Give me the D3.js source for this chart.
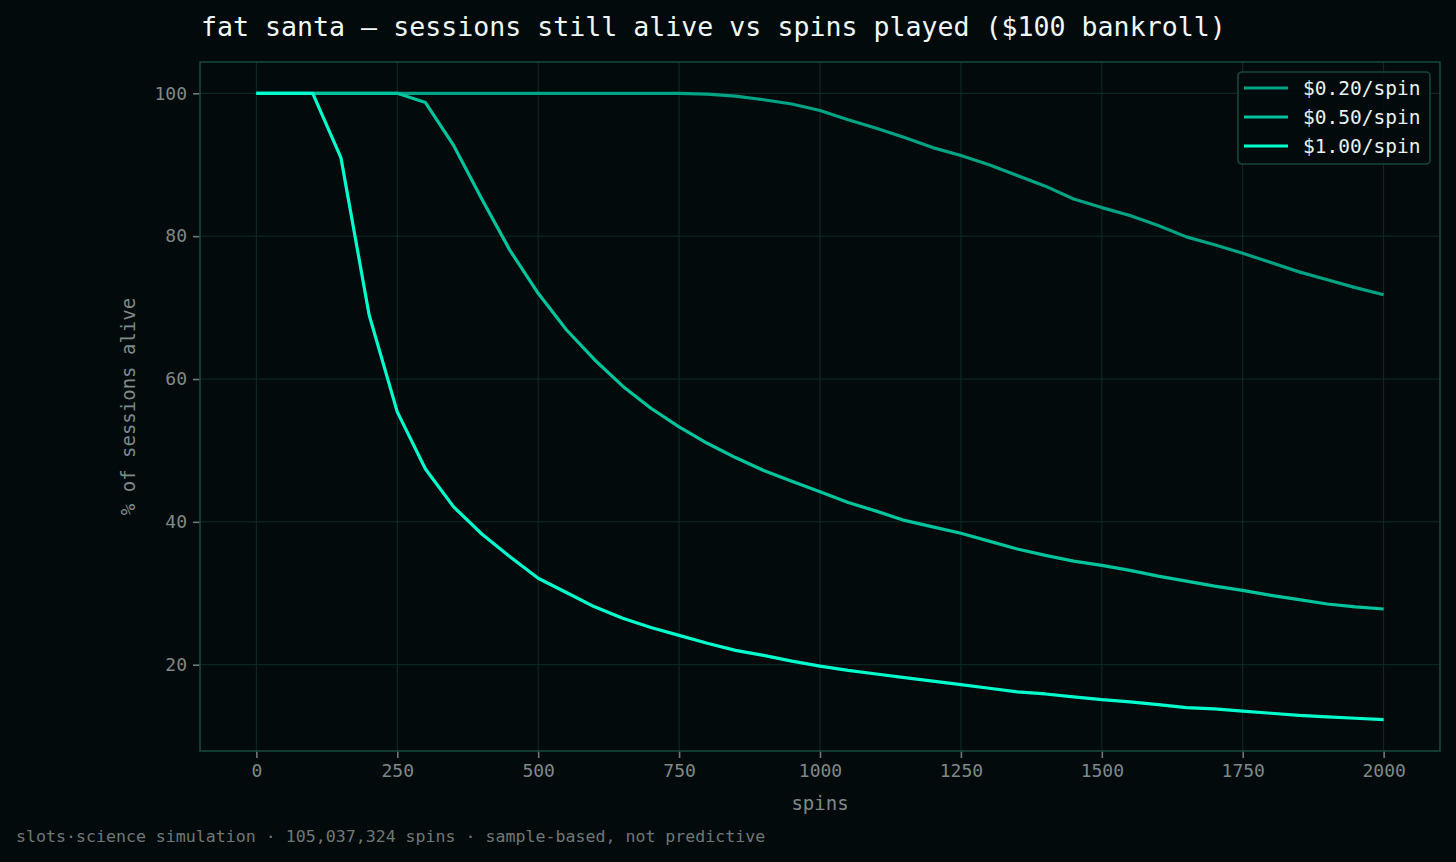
<!DOCTYPE html>
<html lang="en">
<head>
    <meta charset="UTF-8">
    <title>fat santa — sessions still alive</title>
    <script src="https://d3js.org/d3.v7.min.js"></script>
    <style>
        html, body { margin: 0; padding: 0; background: #020a0c; }
        svg { display: block; font-family: "DejaVu Sans Mono", monospace; }
        .tick text { fill: #7f8987; font-size: 18px; font-family: "DejaVu Sans Mono", monospace; }
        .tick line { stroke: #6f7977; }
        .grid line { stroke: #0e2d27; stroke-width: 1; }
        .line { fill: none; stroke-width: 3.2; stroke-linejoin: round; }
    </style>
</head>
<body>
    <div id="chart"></div>
    <script>
        const spins = d3.range(0, 2001, 50);

        const seriesNames = ["$0.20/spin", "$0.50/spin", "$1.00/spin"];
        const seriesColors = ["#00a383", "#00c49c", "#00ffcc"];

        const alive020 = [100, 100, 100, 100, 100, 100, 100, 100, 100, 100,
            100, 100, 100, 100, 100, 100, 99.9, 99.6, 99.1, 98.5,
            97.6, 96.3, 95.1, 93.8, 92.4, 91.3, 90.0, 88.5, 87.0, 85.2,
            84.0, 82.9, 81.5, 79.9, 78.8, 77.6, 76.3, 75.0, 73.9, 72.8, 71.8];
        const alive050 = [100, 100, 100, 100, 100, 100, 98.7, 92.7, 85.2, 78.0,
            72.0, 66.9, 62.7, 59.0, 55.9, 53.3, 51.0, 49.0, 47.2, 45.7,
            44.2, 42.7, 41.5, 40.2, 39.3, 38.4, 37.3, 36.2, 35.3, 34.5,
            33.9, 33.2, 32.4, 31.7, 31.0, 30.4, 29.7, 29.1, 28.5, 28.1, 27.8];
        const alive100 = [100, 100, 100, 91.0, 69.0, 55.4, 47.4, 42.1, 38.3, 35.1,
            32.1, 30.1, 28.1, 26.5, 25.2, 24.1, 23.0, 22.0, 21.3, 20.5,
            19.8, 19.2, 18.7, 18.2, 17.7, 17.2, 16.7, 16.2, 15.9, 15.5,
            15.1, 14.8, 14.4, 14.0, 13.8, 13.5, 13.2, 12.9, 12.7, 12.5, 12.3];

        const xTicks = d3.range(0, 2001, 250);
        const yTicks = [20, 40, 60, 80, 100];

        const series = [alive020, alive050, alive100].map((vals, i) => ({
            name: seriesNames[i],
            color: seriesColors[i],
            values: spins.map((s, j) => ({ x: s, y: vals[j] }))
        }));

        const width = 1456, height = 862;
        const margin = { top: 62, right: 16, bottom: 111, left: 200 };

        const svg = d3.select("#chart").append("svg")
            .attr("width", width)
            .attr("height", height);

        svg.append("rect")
            .attr("width", width)
            .attr("height", height)
            .attr("fill", "#020a0c");

        const x = d3.scaleLinear()
            .domain([-100, 2100])
            .range([margin.left, width - margin.right]);

        const allY = series.flatMap(s => s.values.map(d => d.y));
        const yMin = d3.min(allY), yMax = d3.max(allY);
        const pad = (yMax - yMin) * 0.05;
        const y = d3.scaleLinear()
            .domain([yMin - pad, yMax + pad])
            .range([height - margin.bottom, margin.top]);

        // grid
        svg.append("g").attr("class", "grid")
            .selectAll("line.v").data(xTicks).enter().append("line")
            .attr("x1", d => x(d)).attr("x2", d => x(d))
            .attr("y1", margin.top).attr("y2", height - margin.bottom);
        svg.append("g").attr("class", "grid")
            .selectAll("line.h").data(yTicks).enter().append("line")
            .attr("x1", margin.left).attr("x2", width - margin.right)
            .attr("y1", d => y(d)).attr("y2", d => y(d));

        // axes
        const xAxis = svg.append("g")
            .attr("transform", `translate(0,${height - margin.bottom})`)
            .call(d3.axisBottom(x).tickValues(xTicks).tickSize(7).tickPadding(6).tickFormat(d3.format("d")));
        const yAxis = svg.append("g")
            .attr("transform", `translate(${margin.left},0)`)
            .call(d3.axisLeft(y).tickValues(yTicks).tickSize(7).tickPadding(6).tickFormat(d3.format("d")));
        [xAxis, yAxis].forEach(ax => {
            ax.attr("font-family", null).attr("font-size", null);
            ax.select(".domain").remove();
            ax.selectAll(".tick line").attr("stroke-width", 1.6);
        });

        // frame
        svg.append("rect")
            .attr("x", margin.left)
            .attr("y", margin.top)
            .attr("width", width - margin.right - margin.left)
            .attr("height", height - margin.bottom - margin.top)
            .attr("fill", "none")
            .attr("stroke", "#17463c")
            .attr("stroke-width", 1.6);

        // lines
        const line = d3.line().x(d => x(d.x)).y(d => y(d.y));
        svg.append("g").selectAll("path")
            .data(series).enter().append("path")
            .attr("class", "line")
            .attr("stroke", d => d.color)
            .attr("d", d => line(d.values));

        // legend
        const legend = svg.append("g").attr("transform", "translate(1238,72)");
        legend.append("rect")
            .attr("width", 192).attr("height", 92)
            .attr("rx", 4)
            .attr("fill", "#020a0c")
            .attr("fill-opacity", 0.85)
            .attr("stroke", "#17463c")
            .attr("stroke-width", 1.6);
        const item = legend.selectAll("g.item")
            .data(series).enter().append("g")
            .attr("transform", (d, i) => `translate(0,${16 + i * 29})`);
        item.append("line")
            .attr("x1", 6).attr("x2", 50)
            .attr("stroke", d => d.color)
            .attr("stroke-width", 3.2);
        item.append("text")
            .attr("x", 65).attr("dy", "0.35em")
            .attr("fill", "#e8f2f0")
            .attr("font-size", 19.5)
            .text(d => d.name);

        // labels
        svg.append("text")
            .attr("x", 201).attr("y", 36)
            .attr("fill", "#f0f7f5")
            .attr("font-size", 26.6)
            .text("fat santa — sessions still alive vs spins played ($100 bankroll)");

        svg.append("text")
            .attr("x", (margin.left + width - margin.right) / 2)
            .attr("y", 810)
            .attr("text-anchor", "middle")
            .attr("fill", "#7f8987")
            .attr("font-size", 19)
            .text("spins");

        svg.append("text")
            .attr("transform", `translate(135,${(margin.top + height - margin.bottom) / 2}) rotate(-90)`)
            .attr("text-anchor", "middle")
            .attr("fill", "#7f8987")
            .attr("font-size", 19)
            .text("% of sessions alive");

        svg.append("text")
            .attr("x", 16).attr("y", 842)
            .attr("fill", "#6e7876")
            .attr("font-size", 16.6)
            .text("slots·science simulation · 105,037,324 spins · sample-based, not predictive");
    </script>
</body>
</html>
